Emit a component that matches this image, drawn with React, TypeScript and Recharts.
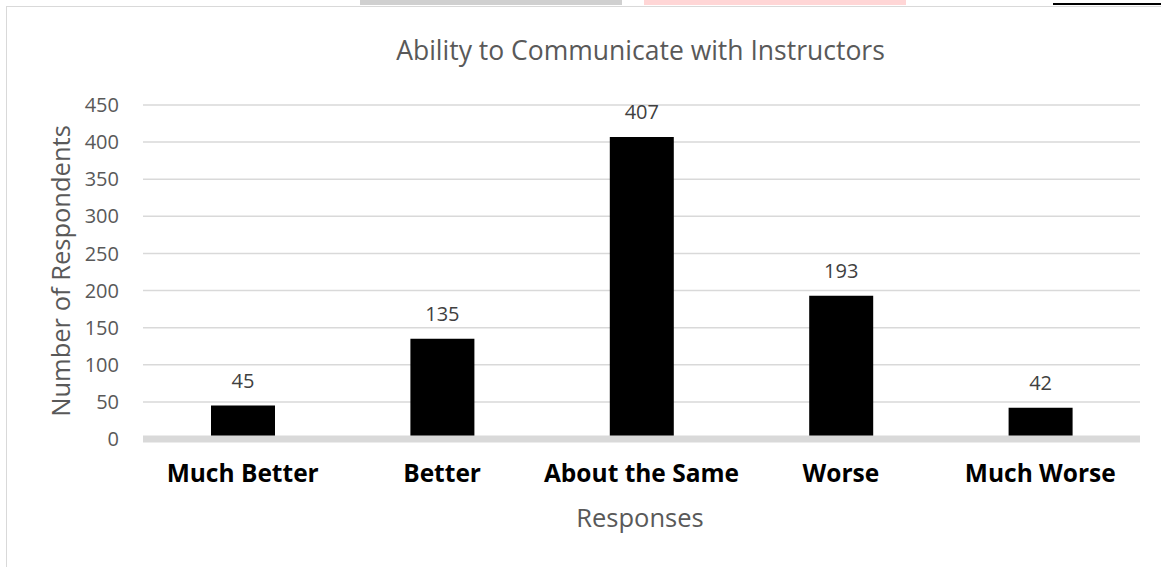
import { BarChart, Bar, XAxis, YAxis, CartesianGrid, LabelList, Label } from 'recharts';

const categories = ['Much Better', 'Better', 'About the Same', 'Worse', 'Much Worse'];
const respondents = [45, 135, 407, 193, 42];
const yTicks = [0, 50, 100, 150, 200, 250, 300, 350, 400, 450];

const data = categories.map((name, i) => ({ name, value: respondents[i] }));

const FONT = '"Open Sans", "Noto Sans", sans-serif';
const GRAY = '#595959';

export default function App() {
  return (
    <div style={{ position: 'absolute', left: 0, top: 0, width: 1161, height: 567, background: '#fff', overflow: 'hidden' }}>
      {/* edge of the surrounding document page (highlights and blank line, text cut off) */}
      <div style={{ position: 'absolute', left: 360, top: 0, width: 262, height: 5, background: '#d0d0d0' }} />
      <div style={{ position: 'absolute', left: 644, top: 0, width: 262, height: 5, background: '#ffd6d6' }} />
      <div style={{ position: 'absolute', left: 1053, top: 3, width: 108, height: 2, background: '#000' }} />

      {/* chart frame */}
      <div
        style={{
          position: 'absolute',
          left: 6,
          top: 6,
          width: 1170,
          height: 580,
          borderLeft: '1.5px solid #d9d9d9',
          borderTop: '1.5px solid #d9d9d9',
        }}
      />

      <div
        style={{
          position: 'absolute',
          left: 0,
          top: 31,
          width: 1161,
          textAlign: 'center',
          paddingLeft: 120,
          boxSizing: 'border-box',
          fontFamily: FONT,
          fontSize: 26.5,
          color: GRAY,
          lineHeight: '38px',
        }}
      >
        Ability to Communicate with Instructors
      </div>

      <div style={{ position: 'absolute', left: 0, top: 0 }}>
        <BarChart
          width={1161}
          height={567}
          data={data}
          margin={{ top: 105, right: 21, bottom: 68, left: 0 }}
          barCategoryGap={0}
        >
          <CartesianGrid vertical={false} stroke="#d9d9d9" strokeWidth={1.5} />
          <XAxis
            dataKey="name"
            height={60}
            axisLine={{ stroke: '#d9d9d9', strokeWidth: 7 }}
            tickLine={false}
            tickSize={0}
            tickMargin={26}
            tick={{ fill: '#000', fontFamily: FONT, fontSize: 24.5, fontWeight: 700 }}
            interval={0}
          >
            <Label
              content={() => (
                <text x={640} y={527} textAnchor="middle" fill={GRAY} fontFamily={FONT} fontSize={25.5}>
                  Responses
                </text>
              )}
            />
          </XAxis>
          <YAxis
            width={143}
            domain={[0, 450]}
            ticks={yTicks}
            interval={0}
            axisLine={false}
            tickLine={false}
            tickSize={0}
            tickMargin={24}
            tick={{ fill: GRAY, fontFamily: FONT, fontSize: 20 }}
          >
            <Label
              content={() => (
                <text
                  x={70}
                  y={271}
                  textAnchor="middle"
                  fill={GRAY}
                  fontFamily={FONT}
                  fontSize={25.5}
                  transform="rotate(-90 70 271)"
                >
                  Number of Respondents
                </text>
              )}
            />
          </YAxis>
          <Bar dataKey="value" fill="#000" barSize={64} isAnimationActive={false}>
            <LabelList
              dataKey="value"
              position="top"
              offset={18}
              fill="#404040"
              fontFamily={FONT}
              fontSize={20}
            />
          </Bar>
        </BarChart>
      </div>
    </div>
  );
}
